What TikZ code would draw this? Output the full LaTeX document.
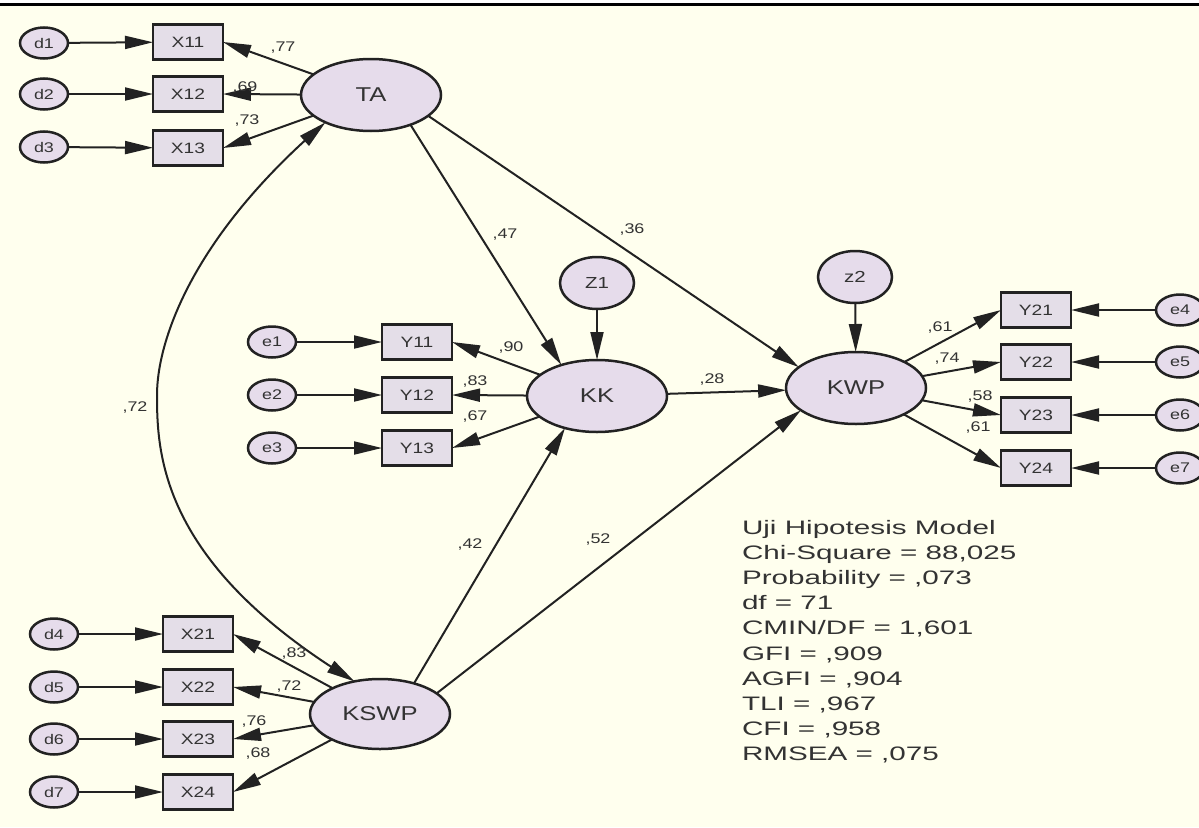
\documentclass[tikz,border=0pt]{standalone}
\usepackage{fontspec}
\setmainfont{Liberation Sans}
\newfontfamily\labfont[FakeStretch=1.28]{Liberation Sans}
\newfontfamily\fitfont[FakeStretch=1.52]{Liberation Sans}
\usetikzlibrary{arrows.meta,shapes.geometric,bending}
\definecolor{bgcream}{HTML}{FFFFEE}
\definecolor{latfill}{HTML}{E6DCEB}
\definecolor{boxfill}{HTML}{E4DEE8}
\definecolor{inkc}{HTML}{222222}
\definecolor{txtc}{HTML}{333333}
\begin{document}
\begin{tikzpicture}[x=1pt,y=-1pt,
  every node/.style={inner sep=0pt, outer sep=0pt},
  lat/.style={ellipse, draw=inkc, line width=2.5pt, fill=latfill, minimum width=140pt, minimum height=72pt, font=\labfont\fontsize{20}{24}\selectfont, text=txtc},
  dist/.style={ellipse, draw=inkc, line width=2.5pt, fill=latfill, minimum width=74pt, minimum height=52pt, font=\labfont\fontsize{16}{19}\selectfont, text=txtc},
  err/.style={ellipse, draw=inkc, line width=2.5pt, fill=latfill, minimum width=48pt, minimum height=31pt, font=\labfont\fontsize{14}{17}\selectfont, text=txtc},
  obs/.style={rectangle, draw=inkc, line width=2.5pt, fill=boxfill, minimum width=70pt, minimum height=35pt, font=\labfont\fontsize{15}{18}\selectfont, text=txtc},
  conn/.style={draw=inkc, line width=2pt, -{Triangle[length=28pt,width=13pt]}},
  cov/.style={draw=inkc, line width=2pt, {Triangle[length=28pt,width=13pt,flex]}-{Triangle[length=28pt,width=13pt,flex]}},
  coef/.style={font=\labfont\fontsize{14}{17}\selectfont, text=txtc},
  fit/.style={anchor=base west, font=\fitfont\fontsize{19.5}{23}\selectfont, text=txtc},
]
\clip (0,0) rectangle (1199,827);
\fill[bgcream] (0,0) rectangle (1199,827);
\fill[white] (0,0) rectangle (1199,3);
\fill[black] (0,3) rectangle (1199,5.5);

% TA block
\node[err] (d1) at (44,43) {d1};
\node[err] (d2) at (44,94) {d2};
\node[err] (d3) at (44,147) {d3};
\node[obs] (X11) at (188,42) {X11};
\node[obs] (X12) at (188,94) {X12};
\node[obs] (X13) at (188,148) {X13};
\node[lat] (TA) at (371,95) {TA};

% KK block
\node[err] (e1) at (272,342) {e1};
\node[err] (e2) at (272,395) {e2};
\node[err] (e3) at (272,448) {e3};
\node[obs] (Y11) at (417,342) {Y11};
\node[obs] (Y12) at (417,395) {Y12};
\node[obs] (Y13) at (417,448) {Y13};
\node[lat] (KK) at (597,396) {KK};
\node[dist] (Z1) at (597,283) {Z1};

% KWP block
\node[lat] (KWP) at (856,388) {KWP};
\node[dist] (z2) at (855,277) {z2};
\node[obs] (Y21) at (1036,310) {Y21};
\node[obs] (Y22) at (1036,362) {Y22};
\node[obs] (Y23) at (1036,415) {Y23};
\node[obs] (Y24) at (1036,468) {Y24};
\node[err] (e4) at (1180,310) {e4};
\node[err] (e5) at (1180,362) {e5};
\node[err] (e6) at (1180,415) {e6};
\node[err] (e7) at (1180,468) {e7};

% KSWP block
\node[lat, minimum height=70pt] (KSWP) at (380,714) {KSWP};
\node[obs] (X21) at (198,634) {X21};
\node[obs] (X22) at (198,687) {X22};
\node[obs] (X23) at (198,739) {X23};
\node[obs] (X24) at (198,792) {X24};
\node[err] (d4) at (54,634) {d4};
\node[err] (d5) at (54,687) {d5};
\node[err] (d6) at (54,739) {d6};
\node[err] (d7) at (54,792) {d7};

% error arrows
\foreach \a/\b in {d1/X11,d2/X12,d3/X13,e1/Y11,e2/Y12,e3/Y13,d4/X21,d5/X22,d6/X23,d7/X24}
  \draw[conn] (\a) -- (\b);
\foreach \a/\b in {e4/Y21,e5/Y22,e6/Y23,e7/Y24}
  \draw[conn] (\a) -- (\b);

% loadings
\foreach \b in {X11,X12,X13} \draw[conn] (TA) -- (\b.east);
\foreach \b in {Y11,Y12,Y13} \draw[conn] (KK) -- (\b.east);
\foreach \b in {X21,X22,X23,X24} \draw[conn] (KSWP) -- (\b.east);
\foreach \b in {Y21,Y22,Y23,Y24} \draw[conn] (KWP) -- (\b.west);

% structural paths
\draw[conn] (TA.-37) -- (KK.139);
\draw[conn] (TA.-20) -- (KWP.160);
\draw[conn] (Z1) -- (KK);
\draw[conn] (z2) -- (KWP);
\draw[conn] (KK) -- (KWP);
\draw[conn] (KSWP.42) -- (KK.225);
\draw[conn] (KSWP.20) -- (KWP.202);

% covariance
\draw[cov] (TA.211) .. controls (190,238) and (157,343) .. (157,395)
  .. controls (157,455) and (161,565) .. (KSWP.128);

% coefficients
\node[coef] (c77) at (283,48) {,77};
\node[coef] (c69) at (245,88) {,69};
\node[coef] (c73) at (247,121) {,73};
\node[coef] (c90) at (511,348) {,90};
\node[coef] (c83a) at (475,382) {,83};
\node[coef] (c67) at (475,417) {,67};
\node[coef] (c47) at (505,235) {,47};
\node[coef] (c36) at (632,230) {,36};
\node[coef] (c28) at (712,380) {,28};
\node[coef] (c42) at (470,545) {,42};
\node[coef] (c52) at (598,540) {,52};
\node[coef] (c72a) at (135,408) {,72};
\node[coef] (c61a) at (940,328) {,61};
\node[coef] (c74) at (947,359) {,74};
\node[coef] (c58) at (980,397) {,58};
\node[coef] (c61b) at (978,428) {,61};
\node[coef] (c83b) at (294,653) {,83};
\node[coef] (c72b) at (289,686) {,72};
\node[coef] (c76) at (254,721) {,76};
\node[coef] (c68) at (258,753) {,68};

% fit statistics
\node[fit] (f0) at (742,534) {Uji Hipotesis Model};
\node[fit] (f1) at (742,559.2) {Chi-Square = 88,025};
\node[fit] (f2) at (742,584.4) {Probability = ,073};
\node[fit] (f3) at (742,609.6) {df = 71};
\node[fit] (f4) at (742,634.8) {CMIN/DF = 1,601};
\node[fit] (f5) at (742,660) {GFI = ,909};
\node[fit] (f6) at (742,685.2) {AGFI = ,904};
\node[fit] (f7) at (742,710.4) {TLI = ,967};
\node[fit] (f8) at (742,735.6) {CFI = ,958};
\node[fit] (f9) at (742,760.8) {RMSEA = ,075};
\end{tikzpicture}
\end{document}
